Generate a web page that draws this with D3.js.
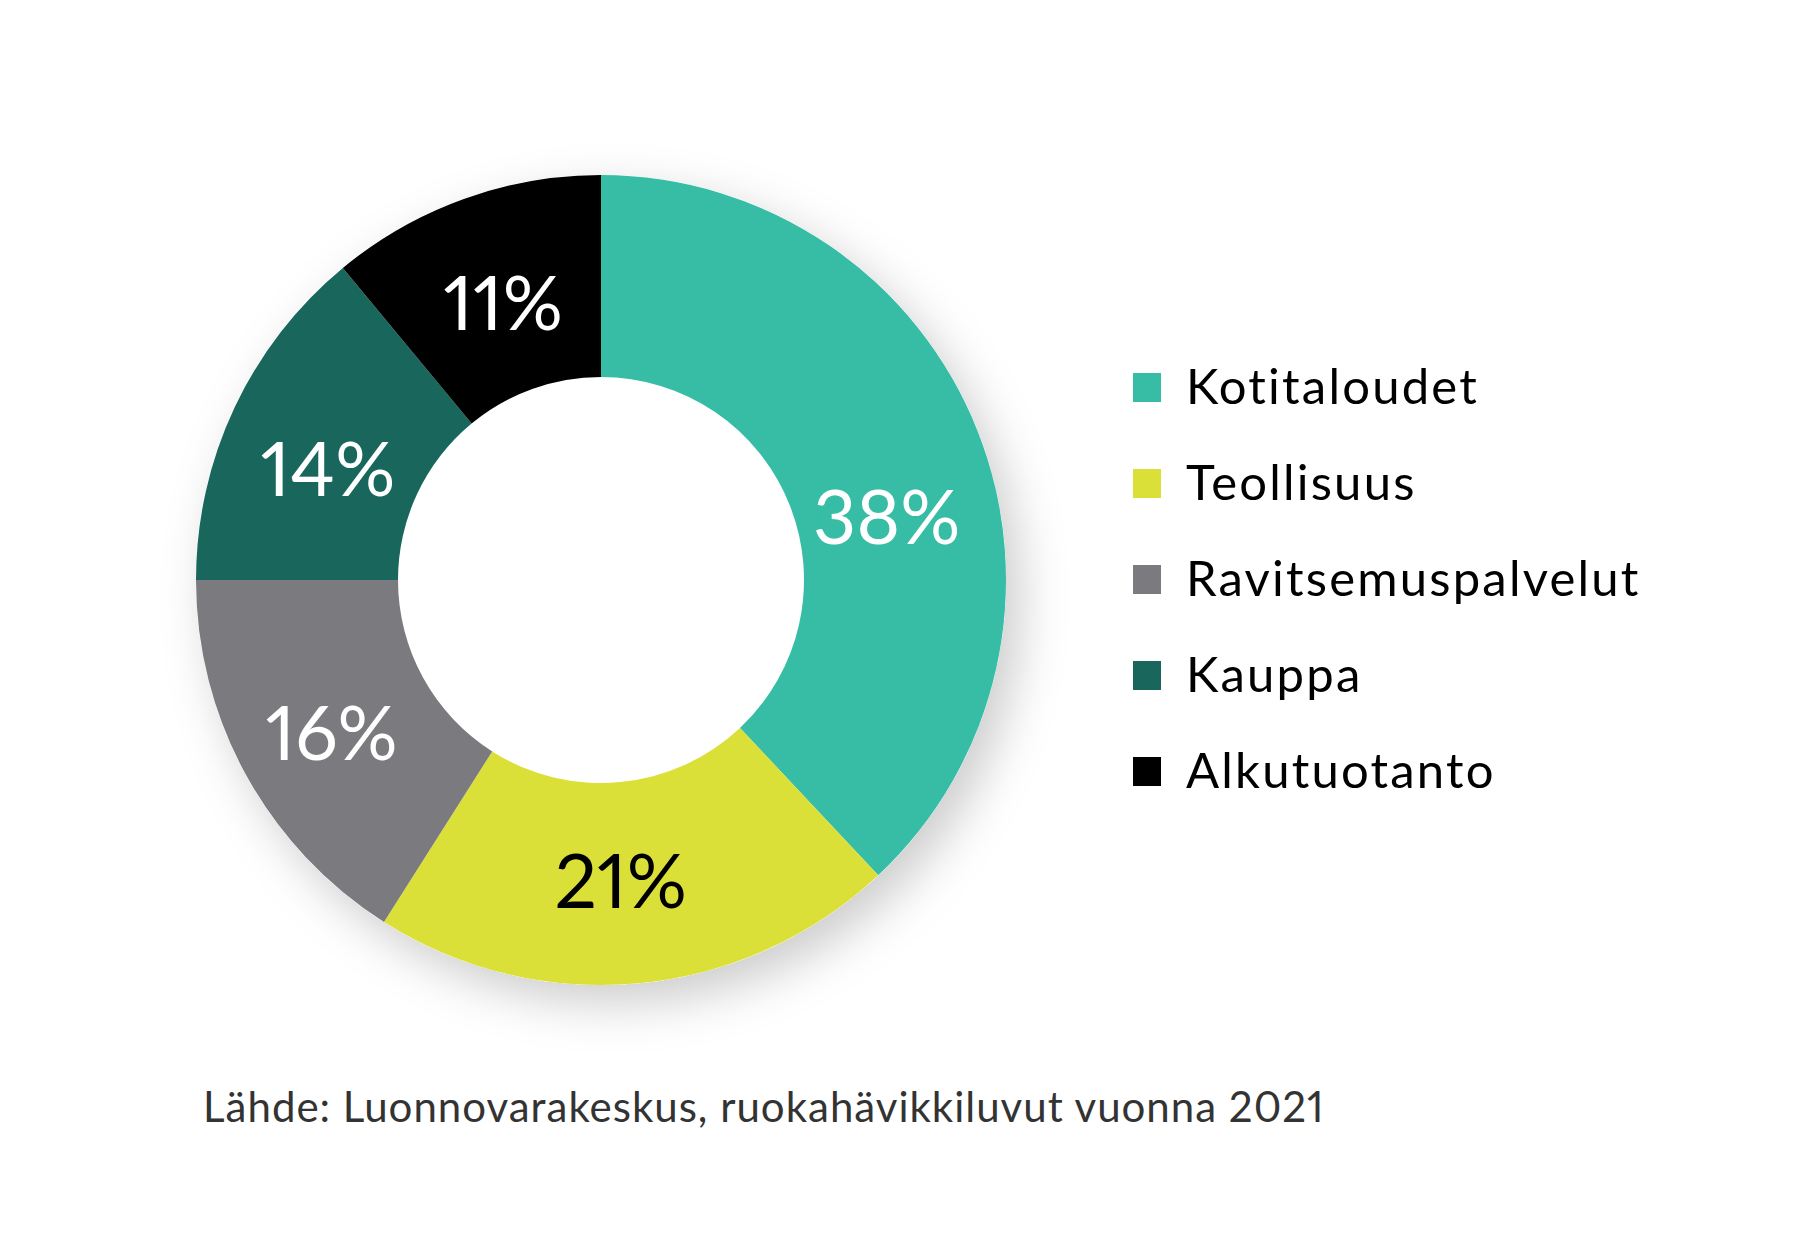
<!DOCTYPE html>
<html>
<head>
<meta charset="utf-8">
<script src="https://cdn.jsdelivr.net/npm/d3@7"></script>
<style>
  html, body { margin: 0; padding: 0; background: #fff; }
  svg { display: block; }
  text {
    font-family: Lato, "Open Sans", sans-serif;
    font-variant-ligatures: none;
    font-feature-settings: "liga" 0, "pnum" 1;
  }
</style>
</head>
<body>
<div id="chart"></div>
<script>
var categories = ["Kotitaloudet", "Teollisuus", "Ravitsemuspalvelut", "Kauppa", "Alkutuotanto"];
var shares = [38, 21, 16, 14, 11];
var colors = ["#37bda5", "#dbe038", "#7b7a7e", "#19675c", "#000000"];
var labelColors = ["#fff", "#000", "#fff", "#fff", "#fff"];
var source = "Lähde: Luonnovarakeskus, ruokahävikkiluvut vuonna 2021";

// small hand nudges so the labels sit where the original put them
var labelNudge = {
  "Kotitaloudet": [3, 76],
  "Teollisuus": [-9, 25],
  "Ravitsemuspalvelut": [-3, 34],
  "Kauppa": [2, 45],
  "Alkutuotanto": [5, 36]
};

var width = 1798, height = 1233;
var cx = 601, cy = 580, outerR = 405, innerR = 203;

var svg = d3.select("#chart")
  .append("svg")
  .attr("width", width)
  .attr("height", height);

var defs = svg.append("defs");
var filter = defs.append("filter")
  .attr("id", "shadow")
  .attr("x", "-30%").attr("y", "-30%")
  .attr("width", "160%").attr("height", "160%");
filter.append("feDropShadow")
  .attr("dx", 14)
  .attr("dy", 18)
  .attr("stdDeviation", 24)
  .attr("flood-color", "#000")
  .attr("flood-opacity", 0.2);

var g = svg.append("g")
  .attr("transform", "translate(" + cx + "," + cy + ")");

// soft shadow behind the whole disc
g.append("circle")
  .attr("r", outerR)
  .attr("fill", "#fff")
  .attr("filter", "url(#shadow)");

var pie = d3.pie().sort(null).value(function(d) { return d; });
var arc = d3.arc().innerRadius(innerR).outerRadius(outerR);
var slices = pie(shares);

g.selectAll("path.slice")
  .data(slices)
  .enter()
  .append("path")
  .attr("class", "slice")
  .attr("d", arc)
  .attr("fill", function(d, i) { return colors[i]; });

g.selectAll("text.pct")
  .data(slices)
  .enter()
  .append("text")
  .attr("class", "pct")
  .attr("text-anchor", "middle")
  .attr("font-size", 75)
  .attr("fill", function(d, i) { return labelColors[i]; })
  .attr("transform", function(d, i) {
    var c = arc.centroid(d);
    var n = labelNudge[categories[i]];
    return "translate(" + (c[0] + n[0]) + "," + (c[1] + n[1]) + ")";
  })
  .text(function(d) { return d.data + "%"; });

// legend
var legendY = d3.scaleBand()
  .domain(categories)
  .range([373, 853])
  .paddingInner(0);

var legend = svg.append("g").attr("transform", "translate(1133,0)");
var rows = legend.selectAll("g.row")
  .data(categories)
  .enter()
  .append("g")
  .attr("class", "row")
  .attr("transform", function(d) { return "translate(0," + legendY(d) + ")"; });

rows.append("rect")
  .attr("width", 28)
  .attr("height", 29)
  .attr("fill", function(d, i) { return colors[i]; });

rows.append("text")
  .attr("x", 53)
  .attr("y", 31)
  .attr("font-size", 49)
  .attr("letter-spacing", 2.2)
  .attr("fill", "#000")
  .text(function(d) { return d; });

svg.append("text")
  .attr("x", 203)
  .attr("y", 1122)
  .attr("font-size", 42)
  .attr("letter-spacing", 1)
  .attr("fill", "#333")
  .text(source);
</script>
</body>
</html>
